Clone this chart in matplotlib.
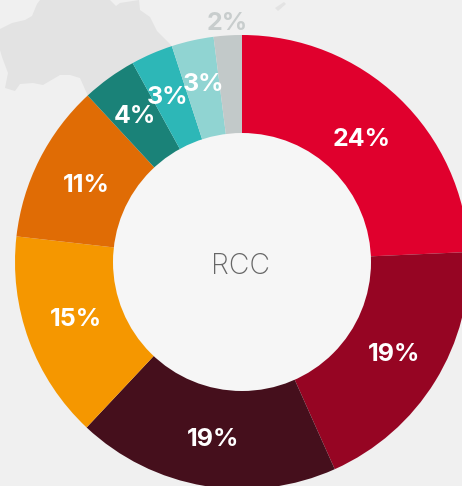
import matplotlib
matplotlib.use("Agg")
import matplotlib.pyplot as plt
import numpy as np
from matplotlib.patches import Circle, Polygon

# shares (clockwise from 12 o'clock), label is the printed rounding
SHARES = [24.3, 19.0, 18.7, 14.8, 11.3, 3.9, 3.0, 3.0, 2.0]
LABELS = ["24%", "19%", "19%", "15%", "11%", "4%", "3%", "3%", "2%"]
COLORS = ["#e0002d", "#960523", "#450f1c", "#f59700", "#e06c05",
          "#1a8278", "#2db7b7", "#90d4d2", "#c2c9c9"]
LABEL_COLORS = ["white"] * 8 + ["#c8cdcd"]
LABEL_RADIUS = [173, 177, 177, 175, 175, 183, 183, 184, 241]
LABEL_TURN = [0, 1, 0, -2, 0, 0, 0.5, -0.5, 0]  # degrees off the wedge middle

# faint Australia outline behind the chart, image pixels
MAP_OUTLINE = [(0, 29), (12, 23), (25, 20), (32, 16), (37, 4), (40, 0), (110, 0), (116, 6), (120, 3), (139, 0),
               (140, 10), (150, 17), (157, 31), (170, 44), (172, 47), (132, 63), (88, 96), (80, 78),
               (70, 75), (60, 75), (43, 85), (33, 83), (20, 84), (15, 91), (5, 88), (8, 73), (2, 57), (0, 50)]
ISLAND = [(275, 8), (284, 2), (286, 4), (278, 11)]

W, H = 462, 486
CX, CY = 242, -262
R_OUT, R_IN = 227, 129
BG = "#f0f0f0"

fig = plt.figure(figsize=(W / 100, H / 100), dpi=100, facecolor=BG)
ax = fig.add_axes([0, 0, 1, 1])

wedges, _ = ax.pie(
    SHARES,
    colors=COLORS,
    startangle=90,
    counterclock=False,
    center=(CX, CY),
    radius=R_OUT,
    wedgeprops={"linewidth": 0},
    frame=False,
)
for w in wedges:
    w.set_zorder(2)
ax.add_patch(Circle((CX, CY), R_IN, facecolor="#f6f6f6", edgecolor="none", zorder=3))

for pts in (MAP_OUTLINE, ISLAND):
    ax.add_patch(Polygon([(x, -y) for x, y in pts], facecolor="#e3e3e3", edgecolor="none", zorder=1))

for w, lab, col, r, turn in zip(wedges, LABELS, LABEL_COLORS, LABEL_RADIUS, LABEL_TURN):
    mid = np.deg2rad((w.theta1 + w.theta2) / 2 + turn)
    ax.text(CX + r * np.cos(mid), CY + r * np.sin(mid), lab, color=col, ha="center", va="center_baseline",
            fontsize=18, fontweight="bold", family="Inter", zorder=4)

ax.text(CX - 1, CY - 1, "RCC", color="#666666", ha="center", va="center_baseline", fontsize=20.5,
        fontweight="light", family="Inter", zorder=4)

ax.set_xlim(0, W)
ax.set_ylim(-H, 0)
ax.set_aspect("equal")
ax.axis("off")
fig.savefig("out.png", dpi=100, facecolor=BG)
plt.close(fig)
